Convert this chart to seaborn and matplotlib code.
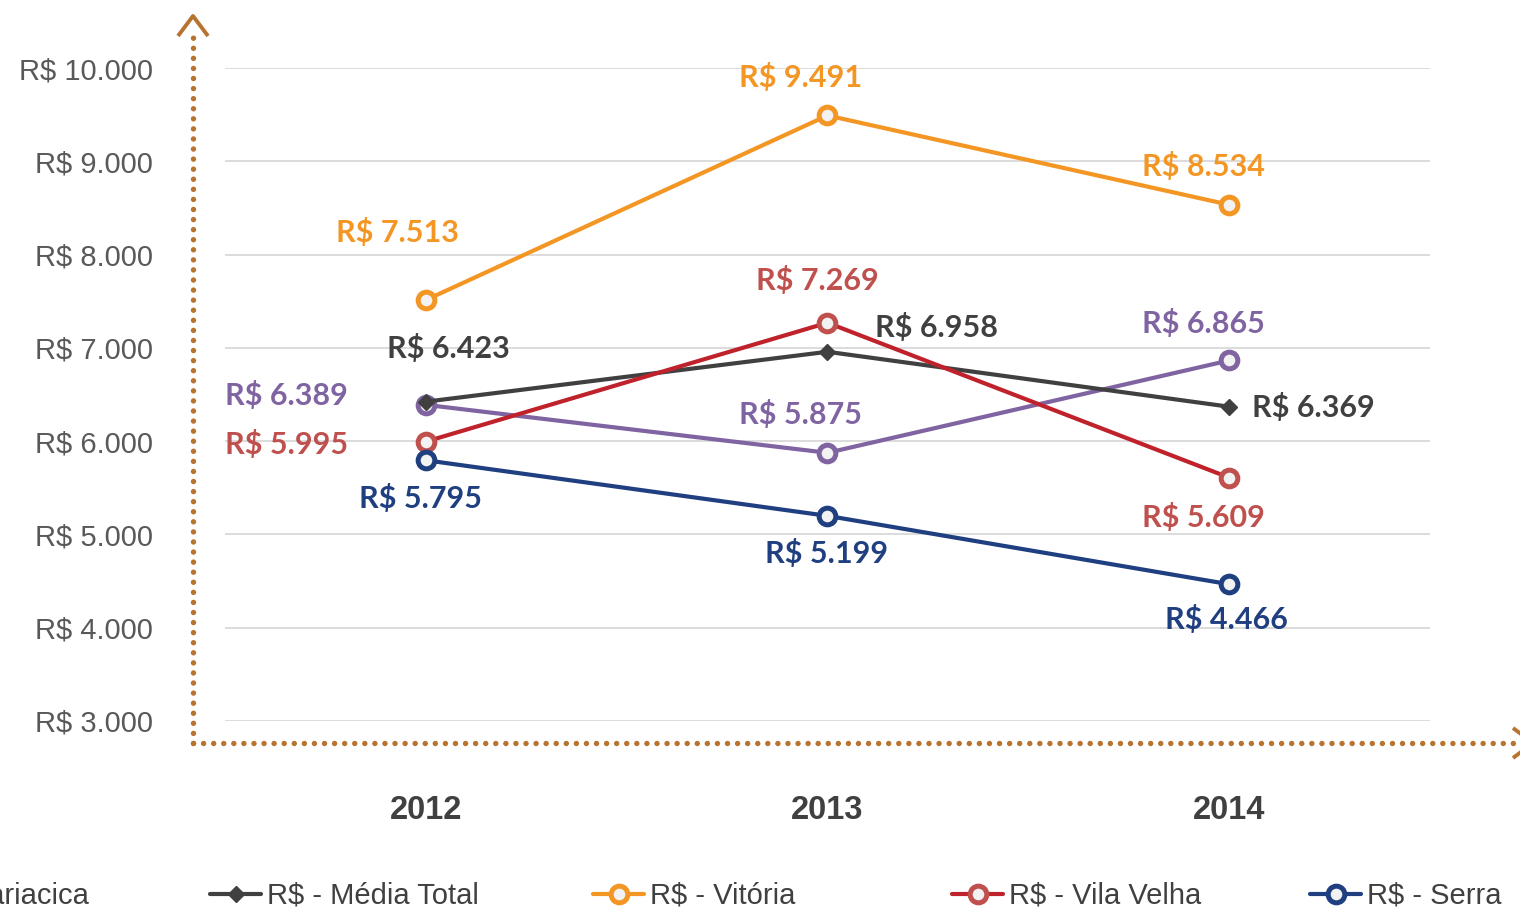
import matplotlib
matplotlib.use("Agg")
import matplotlib.pyplot as plt
from matplotlib.lines import Line2D
import seaborn as sns
import pandas as pd

# Values per municipality (R$)
years = [2012, 2013, 2014]
cariacica = [6389, 5875, 6865]
media_total = [6423, 6958, 6369]
vitoria = [7513, 9491, 8534]
vila_velha = [5995, 7269, 5609]
serra = [5795, 5199, 4466]

series_names = ["R$ - Cariacica", "R$ - Média Total", "R$ - Vitória",
                "R$ - Vila Velha", "R$ - Serra"]
series_values = [cariacica, media_total, vitoria, vila_velha, serra]

yticks = [3000, 4000, 5000, 6000, 7000, 8000, 9000, 10000]


def brl(v):
    return "R$ " + f"{v:,.0f}".replace(",", ".")


# Styling for each series: line colour, marker, marker edge colour, label colour
styles = {
    "R$ - Cariacica": dict(line="#8064A2", marker="o", edge="#8064A2", text="#8064A2"),
    "R$ - Média Total": dict(line="#404040", marker="D", edge="#404040", text="#404040"),
    "R$ - Vitória": dict(line="#F39624", marker="o", edge="#F39624", text="#F39624"),
    "R$ - Vila Velha": dict(line="#C0222C", marker="o", edge="#C0504D", text="#C0504D"),
    "R$ - Serra": dict(line="#1F3F80", marker="o", edge="#1F3F80", text="#1F3F80"),
}

# Data label placement (pixel offsets from the point, horizontal alignment)
label_pos = {
    "R$ - Cariacica": [(-78, 9, "right"), (-27, 38, "center"), (-26, 37, "center")],
    "R$ - Média Total": [(23, 53, "center"), (48, 24, "left"), (23, -1, "left")],
    "R$ - Vitória": [(-28, 68, "center"), (-27, 38, "center"), (-26, 38, "center")],
    "R$ - Vila Velha": [(-78, -3, "right"), (-10, 42, "center"), (-26, -40, "center")],
    "R$ - Serra": [(-5, -38, "center"), (-1, -38, "center"), (-3, -35, "center")],
}

# Left edge (pixels) of each legend entry along the bottom row
legend_x = [-153, 210, 593, 952, 1310]

df = pd.DataFrame({
    "ano": years * len(series_names),
    "valor": [v for vals in series_values for v in vals],
    "serie": [n for n in series_names for _ in years],
})

sns.set_theme(style="white")
plt.rcParams["font.family"] = ["Liberation Sans", "DejaVu Sans"]

W, H = 1520, 911
fig = plt.figure(figsize=(W / 100, H / 100), dpi=100)
ax = fig.add_axes([225 / W, 1 - 721 / H, (1430 - 225) / W, (721 - 68) / H])


def marker_kw(st):
    if st["marker"] == "D":
        return dict(marker="D", markersize=8.5, markerfacecolor=st["edge"],
                    markeredgecolor=st["edge"], markeredgewidth=1)
    return dict(marker="o", markersize=12, markerfacecolor="#F2F2F2",
                markeredgecolor=st["edge"], markeredgewidth=3.6)


handles = []
for name in series_names:
    st = styles[name]
    sub = df[df["serie"] == name]
    sns.lineplot(data=sub, x="ano", y="valor", ax=ax, color=st["line"],
                 linewidth=3.0, legend=False, clip_on=False, zorder=3,
                 **marker_kw(st))
    handles.append(Line2D([], [], color=st["line"], linewidth=3.0, **marker_kw(st)))
    for x, y, (dx, dy, ha) in zip(sub["ano"], sub["valor"], label_pos[name]):
        ax.annotate(brl(y), (x, y), xytext=(dx, dy), textcoords="offset pixels",
                    ha=ha, va="center", fontsize=22, fontweight="bold",
                    color=st["text"], family=["Lato", "DejaVu Sans"], zorder=5)

ax.set_xlim(2011.5, 2014.5)
ax.set_ylim(3000, 10000)
ax.set_yticks(yticks)
ax.set_yticklabels([brl(v) for v in yticks])
ax.set_xticks(years)
ax.set_xticklabels([str(y) for y in years])
ax.set_xlabel("")
ax.set_ylabel("")

ax.grid(axis="y", color="#D9D9D9", linewidth=1.3)
ax.grid(axis="x", visible=False)
ax.set_axisbelow(True)
for sp in ax.spines.values():
    sp.set_visible(False)

ax.tick_params(axis="y", length=0, pad=52, labelsize=21, labelcolor="#595959")
ax.tick_params(axis="x", length=0, pad=53, labelsize=23.5, labelcolor="#404040")
for t in ax.get_xticklabels():
    t.set_fontweight("bold")

# Dotted arrow axes
arrow_c = "#B8732F"
px = lambda x: x / W
py = lambda y: 1 - y / H
dotted = dict(color=arrow_c, linewidth=3.9, linestyle=(0, (0.01, 1.85)),
              dash_capstyle="round", transform=fig.transFigure)
fig.add_artist(Line2D([px(193), px(193)], [py(743), py(30)], **dotted))
fig.add_artist(Line2D([px(193), px(1525)], [py(743), py(743)], **dotted))
solid = dict(color=arrow_c, linewidth=2.8, solid_capstyle="butt",
             transform=fig.transFigure)
fig.add_artist(Line2D([px(178), px(193), px(208)], [py(36), py(16), py(36)], **solid))
fig.add_artist(Line2D([px(1513), px(1533), px(1513)], [py(728), py(743), py(758)], **solid))

# Legend entries along the bottom, the first one running off the left edge
for x0, h, name in zip(legend_x, handles, series_names):
    fig.legend([h], [name], loc="center left",
               bbox_to_anchor=(x0 / W, 1 - 896 / H), frameon=False,
               fontsize=21, handlelength=1.75, handletextpad=0.22,
               borderpad=0, borderaxespad=0, labelcolor="#404040")

fig.savefig("out.png", dpi=100)
